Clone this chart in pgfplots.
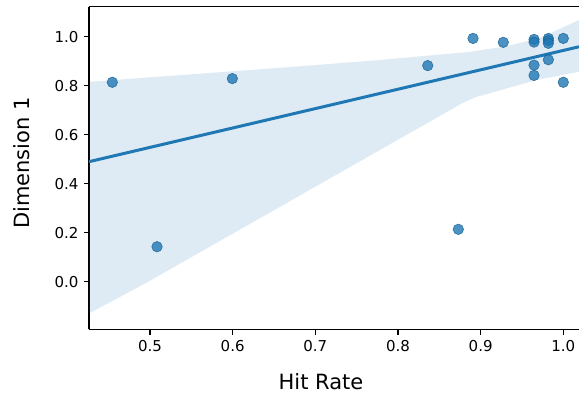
\documentclass[border=0pt]{standalone}
\usepackage{fontspec}
\setmainfont{DejaVu Sans}
\usepackage{pgfplots}
\pgfplotsset{compat=1.18}
\definecolor{c0}{HTML}{1F77B4}
\begin{document}
\begin{tikzpicture}
\begin{axis}[
  name=ax,
  scale only axis,
  width=326.67pt, height=215.07pt,
  xmin=0.4262, xmax=1.019,
  ymin=-0.194, ymax=1.1224,
  axis x line*=box, axis y line*=left,
  tick pos=left,
  tick align=outside,
  major tick length=3.5pt,
  axis line style={line width=0.8pt},
  every tick/.style={line width=0.8pt, black},
  xtick={0.5,0.6,0.7,0.8,0.9,1.0},
  ytick={0,0.2,0.4,0.6,0.8,1.0},
  xticklabels={0.5,0.6,0.7,0.8,0.9,1.0},
  yticklabels={0.0,0.2,0.4,0.6,0.8,1.0},
  tick label style={font=\fontsize{10}{12}\selectfont},
  /pgf/number format/assume math mode=true,
  xlabel={Hit Rate}, ylabel={Dimension 1},
  label style={font=\fontsize{14}{17}\selectfont},
  xlabel style={at={(axis description cs:0.4735,0)}, anchor=center, yshift=-35pt},
  ylabel style={at={(axis description cs:-0.1367,0.5155)}, anchor=center},
]
% confidence band
\addplot[draw=none, fill=c0, fill opacity=0.15] coordinates {
  (0.4262,0.816) (0.6573,0.873) (0.7782,0.905) (0.8871,0.938) (0.9300,0.960) (0.9718,0.995) (1.019,1.068)
  (1.019,0.857) (0.9700,0.825) (0.9300,0.788) (0.9100,0.768) (0.8950,0.755) (0.8800,0.733) (0.7782,0.538) (0.6573,0.306) (0.4940,-0.007) (0.4262,-0.129)
} -- cycle;
% regression line
\addplot[c0, line width=2pt] coordinates {(0.4262,0.490) (1.019,0.959)};
% scatter points
\addplot[only marks, mark=*, mark size=3.5pt, mark options={fill=c0, draw=c0!80!black, line width=0.4pt, opacity=0.8}] coordinates {
  (0.4544,0.814) (0.5996,0.829) (0.5085,0.143) (0.873,0.214) (0.836,0.882)
  (0.8908,0.993) (0.9274,0.977)
  (0.9646,0.989) (0.9646,0.978) (0.9646,0.884) (0.9646,0.842)
  (0.9819,0.993) (0.9819,0.984) (0.9819,0.973) (0.9819,0.906)
  (1.0,0.993) (1.0,0.814)
};
\end{axis}
\pgfresetboundingbox
\path ([shift={(-59.33pt,-43.13pt)}]ax.south west) rectangle ([shift={(0pt,4.47pt)}]ax.north east);
\end{tikzpicture}
\end{document}
